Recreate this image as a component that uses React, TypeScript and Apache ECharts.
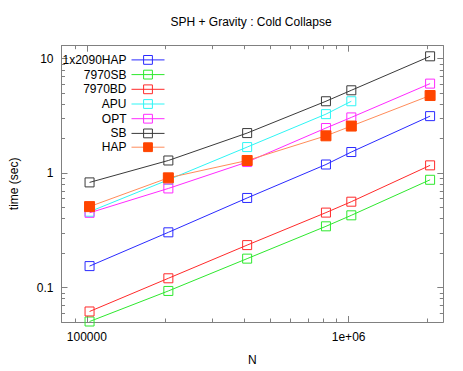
import React, { useEffect, useRef } from "react";
import * as echarts from "echarts";

const titleText = "SPH + Gravity : Cold Collapse";
const xName = "N";
const yName = "time (sec)";

const xValues = [102400, 204800, 409600, 819200, 1024000, 2048000];
const seriesNames = ["1x2090HAP", "7970SB", "7970BD", "APU", "OPT", "SB", "HAP"];
const hap2090 = [0.154, 0.304, 0.607, 1.19, 1.53, 3.15];
const sb7970 = [0.0505, 0.0934, 0.179, 0.343, 0.428, 0.875];
const bd7970 = [0.0618, 0.1205, 0.235, 0.452, 0.563, 1.17];
const apu = [0.46, 0.875, 1.69, 3.28, 4.25];
const opt = [0.45, 0.735, 1.25, 2.48, 3.07, 6.06];
const sb = [0.83, 1.29, 2.24, 4.25, 5.3, 10.5];
const hap = [0.51, 0.91, 1.29, 2.12, 2.58, 4.77];

const xTickValues = [100000, 1000000];
const xTickLabels = ["100000", "1e+06"];
const xMinorTicks = [90000, 200000, 300000, 400000, 500000, 600000, 700000, 800000, 900000, 2000000];
const yTickValues = [0.1, 1, 10];
const yTickLabels = ["0.1", "1", "10"];
const yMinorTicks = [0.06, 0.07, 0.08, 0.09, 0.2, 0.3, 0.4, 0.5, 0.6, 0.7, 0.8, 0.9, 2, 3, 4, 5, 6, 7, 8, 9];

const X_MIN = 80000;
const X_MAX = 2300000;
const Y_MIN = 0.05;
const Y_MAX = 13;

const lineColors = ["#2a2aff", "#2ee82e", "#ff2a2a", "#2ef5f5", "#ff2aff", "#3a3a3a", "#ff8c5a"];
const FONT = "Liberation Sans, Arial, Helvetica, sans-serif";
const AXIS_COLOR = "#808080";

export default function App() {
  const ref = useRef<HTMLDivElement>(null);
  useEffect(() => {
    if (!ref.current) return;
    const chart = echarts.init(ref.current, undefined, { renderer: "svg" });
    const allData = [hap2090, sb7970, bd7970, apu, opt, sb, hap];

    const mkX = (pos: string, major: boolean, main: boolean) => ({
      type: "log",
      logBase: 10,
      min: X_MIN,
      max: X_MAX,
      position: pos,
      gridIndex: 0,
      name: main ? xName : "",
      nameLocation: "middle",
      nameGap: 32,
      nameTextStyle: { color: "#000", fontSize: 12, fontFamily: FONT },
      axisLine: { show: major, lineStyle: { color: AXIS_COLOR, width: 1 } },
      axisTick: {
        show: true,
        inside: true,
        length: major ? 6 : 3.5,
        customValues: major ? xTickValues : xMinorTicks,
        lineStyle: { color: AXIS_COLOR, width: 1 },
      },
      axisLabel: main
        ? {
            show: true,
            customValues: xTickValues,
            margin: 9,
            color: "#000",
            fontSize: 12,
            fontFamily: FONT,
            formatter: (v: number) => {
              const i = xTickValues.findIndex((t) => Math.abs(t - v) / t < 1e-6);
              return i >= 0 ? xTickLabels[i] : "";
            },
          }
        : { show: false },
      splitLine: { show: false },
      minorTick: { show: false },
    });
    const mkY = (pos: string, major: boolean, main: boolean) => ({
      type: "log",
      logBase: 10,
      min: Y_MIN,
      max: Y_MAX,
      position: pos,
      gridIndex: 0,
      name: main ? yName : "",
      nameLocation: "middle",
      nameGap: 41.5,
      nameTextStyle: { color: "#000", fontSize: 12, fontFamily: FONT },
      axisLine: { show: major, lineStyle: { color: AXIS_COLOR, width: 1 } },
      axisTick: {
        show: true,
        inside: true,
        length: major ? 6 : 3.5,
        customValues: major ? yTickValues : yMinorTicks,
        lineStyle: { color: AXIS_COLOR, width: 1 },
      },
      axisLabel: main
        ? {
            show: true,
            customValues: yTickValues,
            margin: 8,
            color: "#000",
            fontSize: 12,
            fontFamily: FONT,
            formatter: (v: number) => {
              const i = yTickValues.findIndex((t) => Math.abs(t - v) / t < 1e-6);
              return i >= 0 ? yTickLabels[i] : "";
            },
          }
        : { show: false },
      splitLine: { show: false },
      minorTick: { show: false },
    });

    const series = seriesNames.map((name, si) => {
      const isHap = name === "HAP";
      const c = lineColors[si];
      return {
        name,
        type: "line",
        xAxisIndex: 0,
        yAxisIndex: 0,
        clip: false,
        data: allData[si].map((v, i) => [xValues[i], v]),
        symbol: "rect",
        symbolSize: isHap ? 10 : 9,
        showAllSymbol: true,
        lineStyle: { color: c, width: 1 },
        itemStyle: isHap
          ? { color: "#ff4500", borderColor: "#ff4500", borderWidth: 1 }
          : { color: "none", borderColor: c, borderWidth: 1 },
        emphasis: { disabled: true },
        z: 2 + si,
      };
    });

    chart.setOption({
      animation: false,
      backgroundColor: "#fff",
      textStyle: { fontFamily: FONT },
      title: {
        text: titleText,
        left: 170.5,
        top: 16,
        padding: 0,
        textStyle: { color: "#000", fontSize: 12, fontWeight: "normal", fontFamily: FONT },
      },
      legend: {
        orient: "vertical",
        align: "right",
        right: 298,
        top: 53,
        padding: 0,
        itemWidth: 33,
        itemHeight: 11,
        itemGap: 0.9,
        selectedMode: false,
        lineStyle: { width: 1 },
        itemStyle: { borderWidth: 1 },
        textStyle: { color: "#000", fontSize: 12, fontFamily: FONT },
        data: seriesNames,
      },
      grid: { left: 59, right: 19.7, top: 45.7, bottom: 47.7, containLabel: false },
      xAxis: [mkX("bottom", true, true), mkX("bottom", false, false), mkX("top", true, false), mkX("top", false, false)],
      yAxis: [mkY("left", true, true), mkY("left", false, false), mkY("right", true, false), mkY("right", false, false)],
      series,
    });
    return () => chart.dispose();
  }, []);
  return <div ref={ref} style={{ position: "fixed", left: 0, top: 0, width: 463, height: 371 }} />;
}
